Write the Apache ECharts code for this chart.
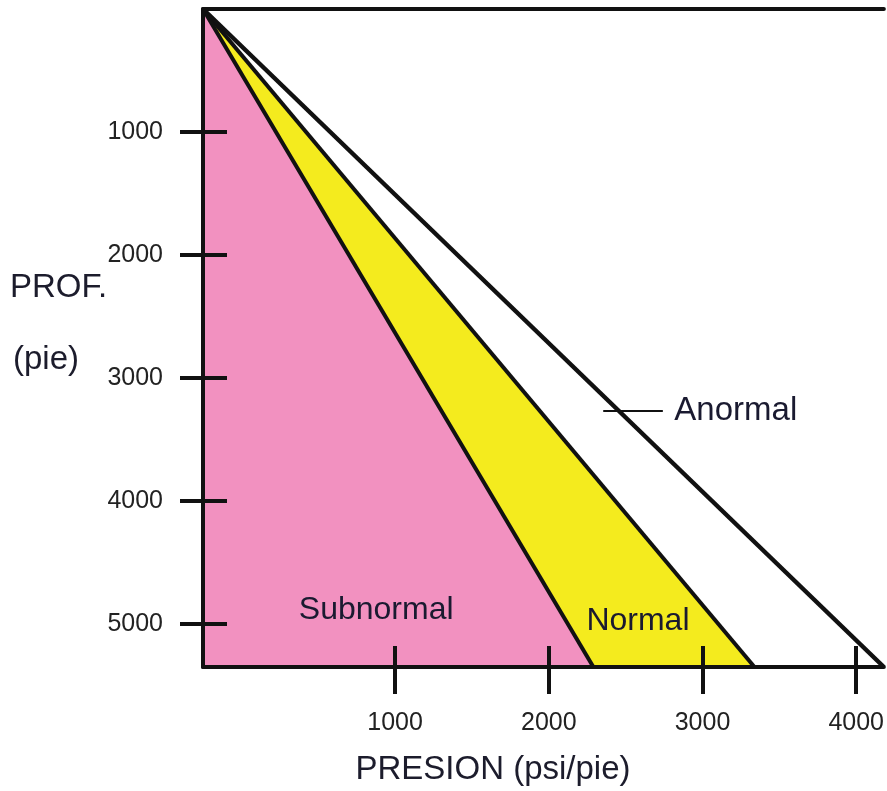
<!DOCTYPE html>
<html>
<head>
<meta charset="utf-8">
<script src="https://cdn.jsdelivr.net/npm/echarts@6/dist/echarts.min.js"></script>
<style>html,body{margin:0;padding:0;background:#fff}#c{width:887px;height:791px}</style>
</head>
<body>
<div id="c"></div>
<script>
// Axis ranges (pressure in psi, depth in ft)
const pressureRange = [-250, 4180];
const depthRange = [0, 5350];
const pressureTicks = [1000, 2000, 3000, 4000];
const depthTicks = [1000, 2000, 3000, 4000, 5000];
// Gradient lines: from surface point to pressure at max depth
const surfacePoint = [-250, 0];
const subnormalLine = [surfacePoint, [2290, 5350]];
const normalLine = [surfacePoint, [3338, 5350]];
const anormalLine = [surfacePoint, [4180, 5350]];
// Annotations
const regionLabels = [
  { name: 'Subnormal', value: [877, 4886] },
  { name: 'Normal', value: [2580, 4976] }
];
const anormalLeader = [[2354, 3268], [2742, 3268]];
const anormalLabel = { name: 'Anormal', value: [2742, 3268] };

const FONT = 'Liberation Sans, Arial, sans-serif';
const black = '#111';

const chart = echarts.init(document.getElementById('c'));

function xAx(extra) {
  return Object.assign({
    type: 'value', min: pressureRange[0], max: pressureRange[1], z: 10,
    splitLine: { show: false }, axisLabel: { show: false }, axisTick: { show: false },
    axisLine: { show: false, onZero: false }
  }, extra);
}
function yAx(extra) {
  return Object.assign({
    type: 'value', min: depthRange[0], max: depthRange[1], inverse: true, z: 10,
    splitLine: { show: false }, axisLabel: { show: false }, axisTick: { show: false },
    axisLine: { show: false, onZero: false }
  }, extra);
}
const plain = v => String(v);

chart.setOption({
  animation: false,
  backgroundColor: '#fff',
  grid: { left: 203, right: 0, top: 9, bottom: 124, containLabel: false },
  xAxis: [
    xAx({ position: 'bottom', axisLine: { show: true, onZero: false, lineStyle: { color: black, width: 4 } },
      axisTick: { show: true, inside: true, length: 21, customValues: pressureTicks, lineStyle: { color: black, width: 4 } } }),
    xAx({ position: 'bottom',
      axisTick: { show: true, inside: false, length: 27, customValues: pressureTicks, lineStyle: { color: black, width: 4 } },
      axisLabel: { show: true, customValues: pressureTicks, formatter: plain, margin: 44, color: '#222', fontSize: 25, fontFamily: FONT } }),
    xAx({ position: 'top', axisLine: { show: true, onZero: false, lineStyle: { color: black, width: 4 } } })
  ],
  yAxis: [
    yAx({ position: 'left', axisLine: { show: true, onZero: false, lineStyle: { color: black, width: 4 } },
      axisTick: { show: true, inside: true, length: 24, customValues: depthTicks, lineStyle: { color: black, width: 4 } } }),
    yAx({ position: 'left',
      axisTick: { show: true, inside: false, length: 23, customValues: depthTicks, lineStyle: { color: black, width: 4 } },
      axisLabel: { show: true, customValues: depthTicks, formatter: plain, margin: 40, color: '#222', fontSize: 25, fontFamily: FONT } })
  ],
  graphic: [
    { type: 'text', x: 10, y: 288, style: { text: 'PROF.', fontSize: 33, fontFamily: FONT, fill: '#1c1c2c', verticalAlign: 'middle' } },
    { type: 'text', x: 13, y: 360, style: { text: '(pie)', fontSize: 33, fontFamily: FONT, fill: '#1c1c2c', verticalAlign: 'middle' } },
    { type: 'text', x: 493, y: 770, style: { text: 'PRESION (psi/pie)', fontSize: 33, fontFamily: FONT, fill: '#1c1c2c', align: 'center', verticalAlign: 'middle' } }
  ],
  series: [
    { type: 'line', data: normalLine, symbol: 'none', z: 2,
      lineStyle: { color: black, width: 4 }, areaStyle: { color: '#f4eb1e', opacity: 1, origin: 'end' } },
    { type: 'line', data: subnormalLine, symbol: 'none', z: 3,
      lineStyle: { color: black, width: 4 }, areaStyle: { color: '#f291c0', opacity: 1, origin: 'end' } },
    { type: 'line', data: anormalLine, symbol: 'none', z: 3,
      lineStyle: { color: black, width: 4.5 } },
    { type: 'line', data: anormalLeader, symbol: 'none', z: 3,
      lineStyle: { color: black, width: 2 } },
    { type: 'scatter', data: regionLabels, symbolSize: 1, z: 5,
      itemStyle: { color: 'rgba(0,0,0,0)', opacity: 1 },
      label: { show: true, position: 'inside', formatter: '{b}', fontSize: 32, fontFamily: FONT, color: '#1a1a30', opacity: 1, textBorderWidth: 0 } },
    { type: 'scatter', data: [anormalLabel], symbolSize: 1, z: 5,
      itemStyle: { color: 'rgba(0,0,0,0)', opacity: 1 },
      label: { show: true, position: 'right', distance: 11, formatter: '{b}', fontSize: 33, fontFamily: FONT, color: '#1a1a30', opacity: 1 } }
  ]
});
</script>
</body>
</html>
